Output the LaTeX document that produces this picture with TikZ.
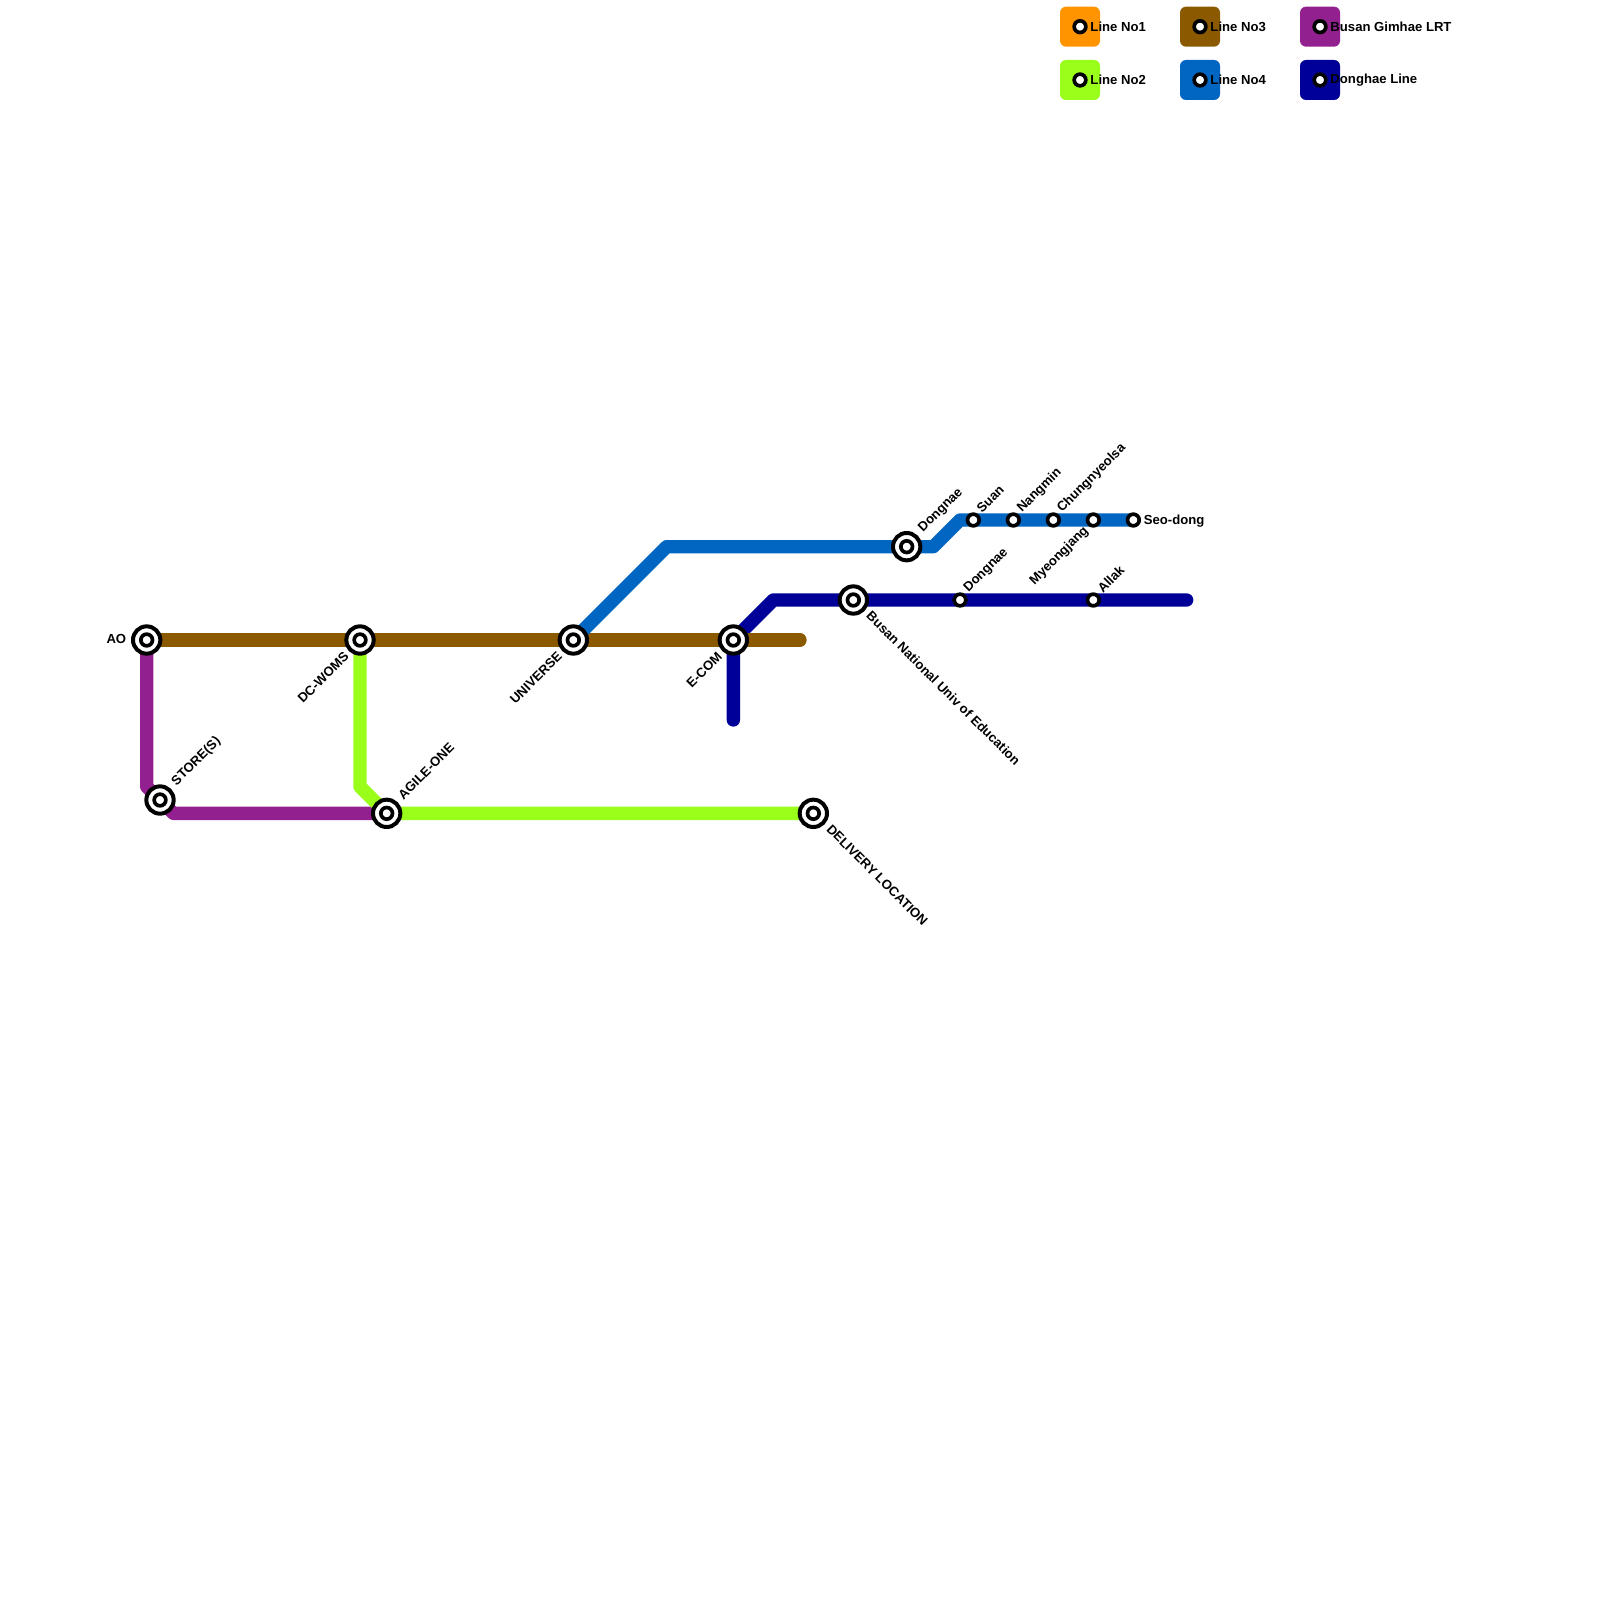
\documentclass[tikz,border=0pt]{standalone}
\usepackage{fontspec}
\setmainfont{Liberation Sans}
\usepackage{xcolor}
\usetikzlibrary{calc,backgrounds}
\definecolor{lineone}{RGB}{255,148,0}
\definecolor{linetwo}{RGB}{153,255,26}
\definecolor{linethree}{RGB}{139,90,0}
\definecolor{linefour}{RGB}{0,102,194}
\definecolor{lrt}{RGB}{147,32,143}
\definecolor{donghae}{RGB}{0,0,153}

\begin{document}
\begin{tikzpicture}[x=.2cm,y=-.2cm,
      every node/.style={font=\fontsize{5.6}{6.6}\selectfont\bfseries,inner sep=0pt},
      track/.style={line width=2mm,line cap=round,line join=round},
      hub/.style={circle,draw=black,fill=white,line width=.6mm,minimum size=4.1mm},
      halt/.style={circle,draw=black,fill=white,line width=.55mm,minimum size=1.75mm},
      key/.style={rounded corners=.9mm,minimum size=6mm},
      ne/.style={rotate=45,anchor=west},
      se/.style={rotate=-45,anchor=west},
      sw/.style={rotate=45,anchor=east}]
      \useasboundingbox (0,0) rectangle (120,120);
      % interchange stations
      \foreach \n/\x/\y in {ao/11/48,dcwoms/27/48,universe/43/48,ecom/55/48,store/12/60,agile/29/61,delivery/61/61,busan/64/45,dongnae/68/41}{
        \node[hub] (\n) at (\x,\y) {};
        \node[halt] at (\n) {};
      }
      % plain stations
      \foreach \n/\x/\y in {suan/73/39,nangmin/76/39,chung/79/39,myeong/82/39,seodong/85/39,dongnaeb/72/45,allak/82/45}{
        \node[halt] (\n) at (\x,\y) {};
      }
      % bends and line ends
      \coordinate (aoBend) at (11,59);
      \coordinate (storeBend) at (13,61);
      \coordinate (womsBend) at (27,59);
      \coordinate (uniBend) at (50,41);
      \coordinate (dongBend) at (70,41);
      \coordinate (suanBend) at (72,39);
      \coordinate (ecomEnd) at (55,54);
      \coordinate (ecomBend) at (58,45);
      \coordinate (brownEnd) at (60,48);
      \coordinate (donghaeEnd) at (89,45);
      \begin{scope}[on background layer]
        \draw[track,lrt] (ao.center) -- (aoBend) -- (store.center) -- (storeBend) -- (agile.center);
        \draw[track,linetwo] (dcwoms.center) -- (womsBend) -- (agile.center) -- (delivery.center);
        \draw[track,donghae] (ecomEnd) -- (ecom.center) -- (ecomBend) -- (busan.center) -- (donghaeEnd);
        \draw[track,linethree] (ao.center) -- (dcwoms.center) -- (universe.center) -- (ecom.center) -- (brownEnd);
        \draw[track,linefour] (universe.center) -- (uniBend) -- (dongnae.center) -- (dongBend) -- (suanBend) -- (suan.center) -- (seodong.center);
      \end{scope}
      % station names
      \node[anchor=east] (aoL) at ($(ao)+(-1.5,-.05)$) {AO};
      \node[sw] (dcwomsL) at ($(dcwoms)+(-1,1.05)$) {DC-WOMS};
      \node[sw] (universeL) at ($(universe)+(-1,1.05)$) {UNIVERSE};
      \node[sw] (ecomL) at ($(ecom)+(-1,1.05)$) {E-COM};
      \node[ne] (storeL) at ($(store)+(1.05,-1.2)$) {STORE(S)};
      \node[ne] (agileL) at ($(agile)+(1,-1.2)$) {AGILE-ONE};
      \node[se] (deliveryL) at ($(delivery)+(1.15,1)$) {DELIVERY LOCATION};
      \node[se] (busanL) at ($(busan)+(1.15,1)$) {Busan National Univ of Education};
      \node[ne] (dongnaeL) at ($(dongnae)+(1.05,-1.2)$) {Dongnae};
      \node[ne] (suanL) at ($(suan)+(.4,-.7)$) {Suan};
      \node[ne] (nangminL) at ($(nangmin)+(.45,-.7)$) {Nangmin};
      \node[ne] (chungL) at ($(chung)+(.45,-.7)$) {Chungnyeolsa};
      \node[sw] (myeongL) at ($(myeong)+(-.5,.65)$) {Myeongjang};
      \node[anchor=west] (seodongL) at ($(seodong)+(.75,.05)$) {Seo-dong};
      \node[ne] (dongnaebL) at ($(dongnaeb)+(.45,-.7)$) {Dongnae};
      \node[ne] (allakL) at ($(allak)+(.45,-.7)$) {Allak};
      % legend
      \foreach \n/\x/\y/\c/\t in {kone/81/2/lineone/Line No1,ktwo/81/6/linetwo/Line No2,kthree/90/2/linethree/Line No3,kfour/90/6/linefour/Line No4,klrt/99/2/lrt/Busan Gimhae LRT,kdong/99/6/donghae/Donghae Line}{
        \node[key,fill=\c] (\n) at (\x,\y) {};
        \node[halt] at (\n) {};
        \node[anchor=west] at ($(\n)+(.75,0)$) {\t};
      }
    \end{tikzpicture}
\end{document}
